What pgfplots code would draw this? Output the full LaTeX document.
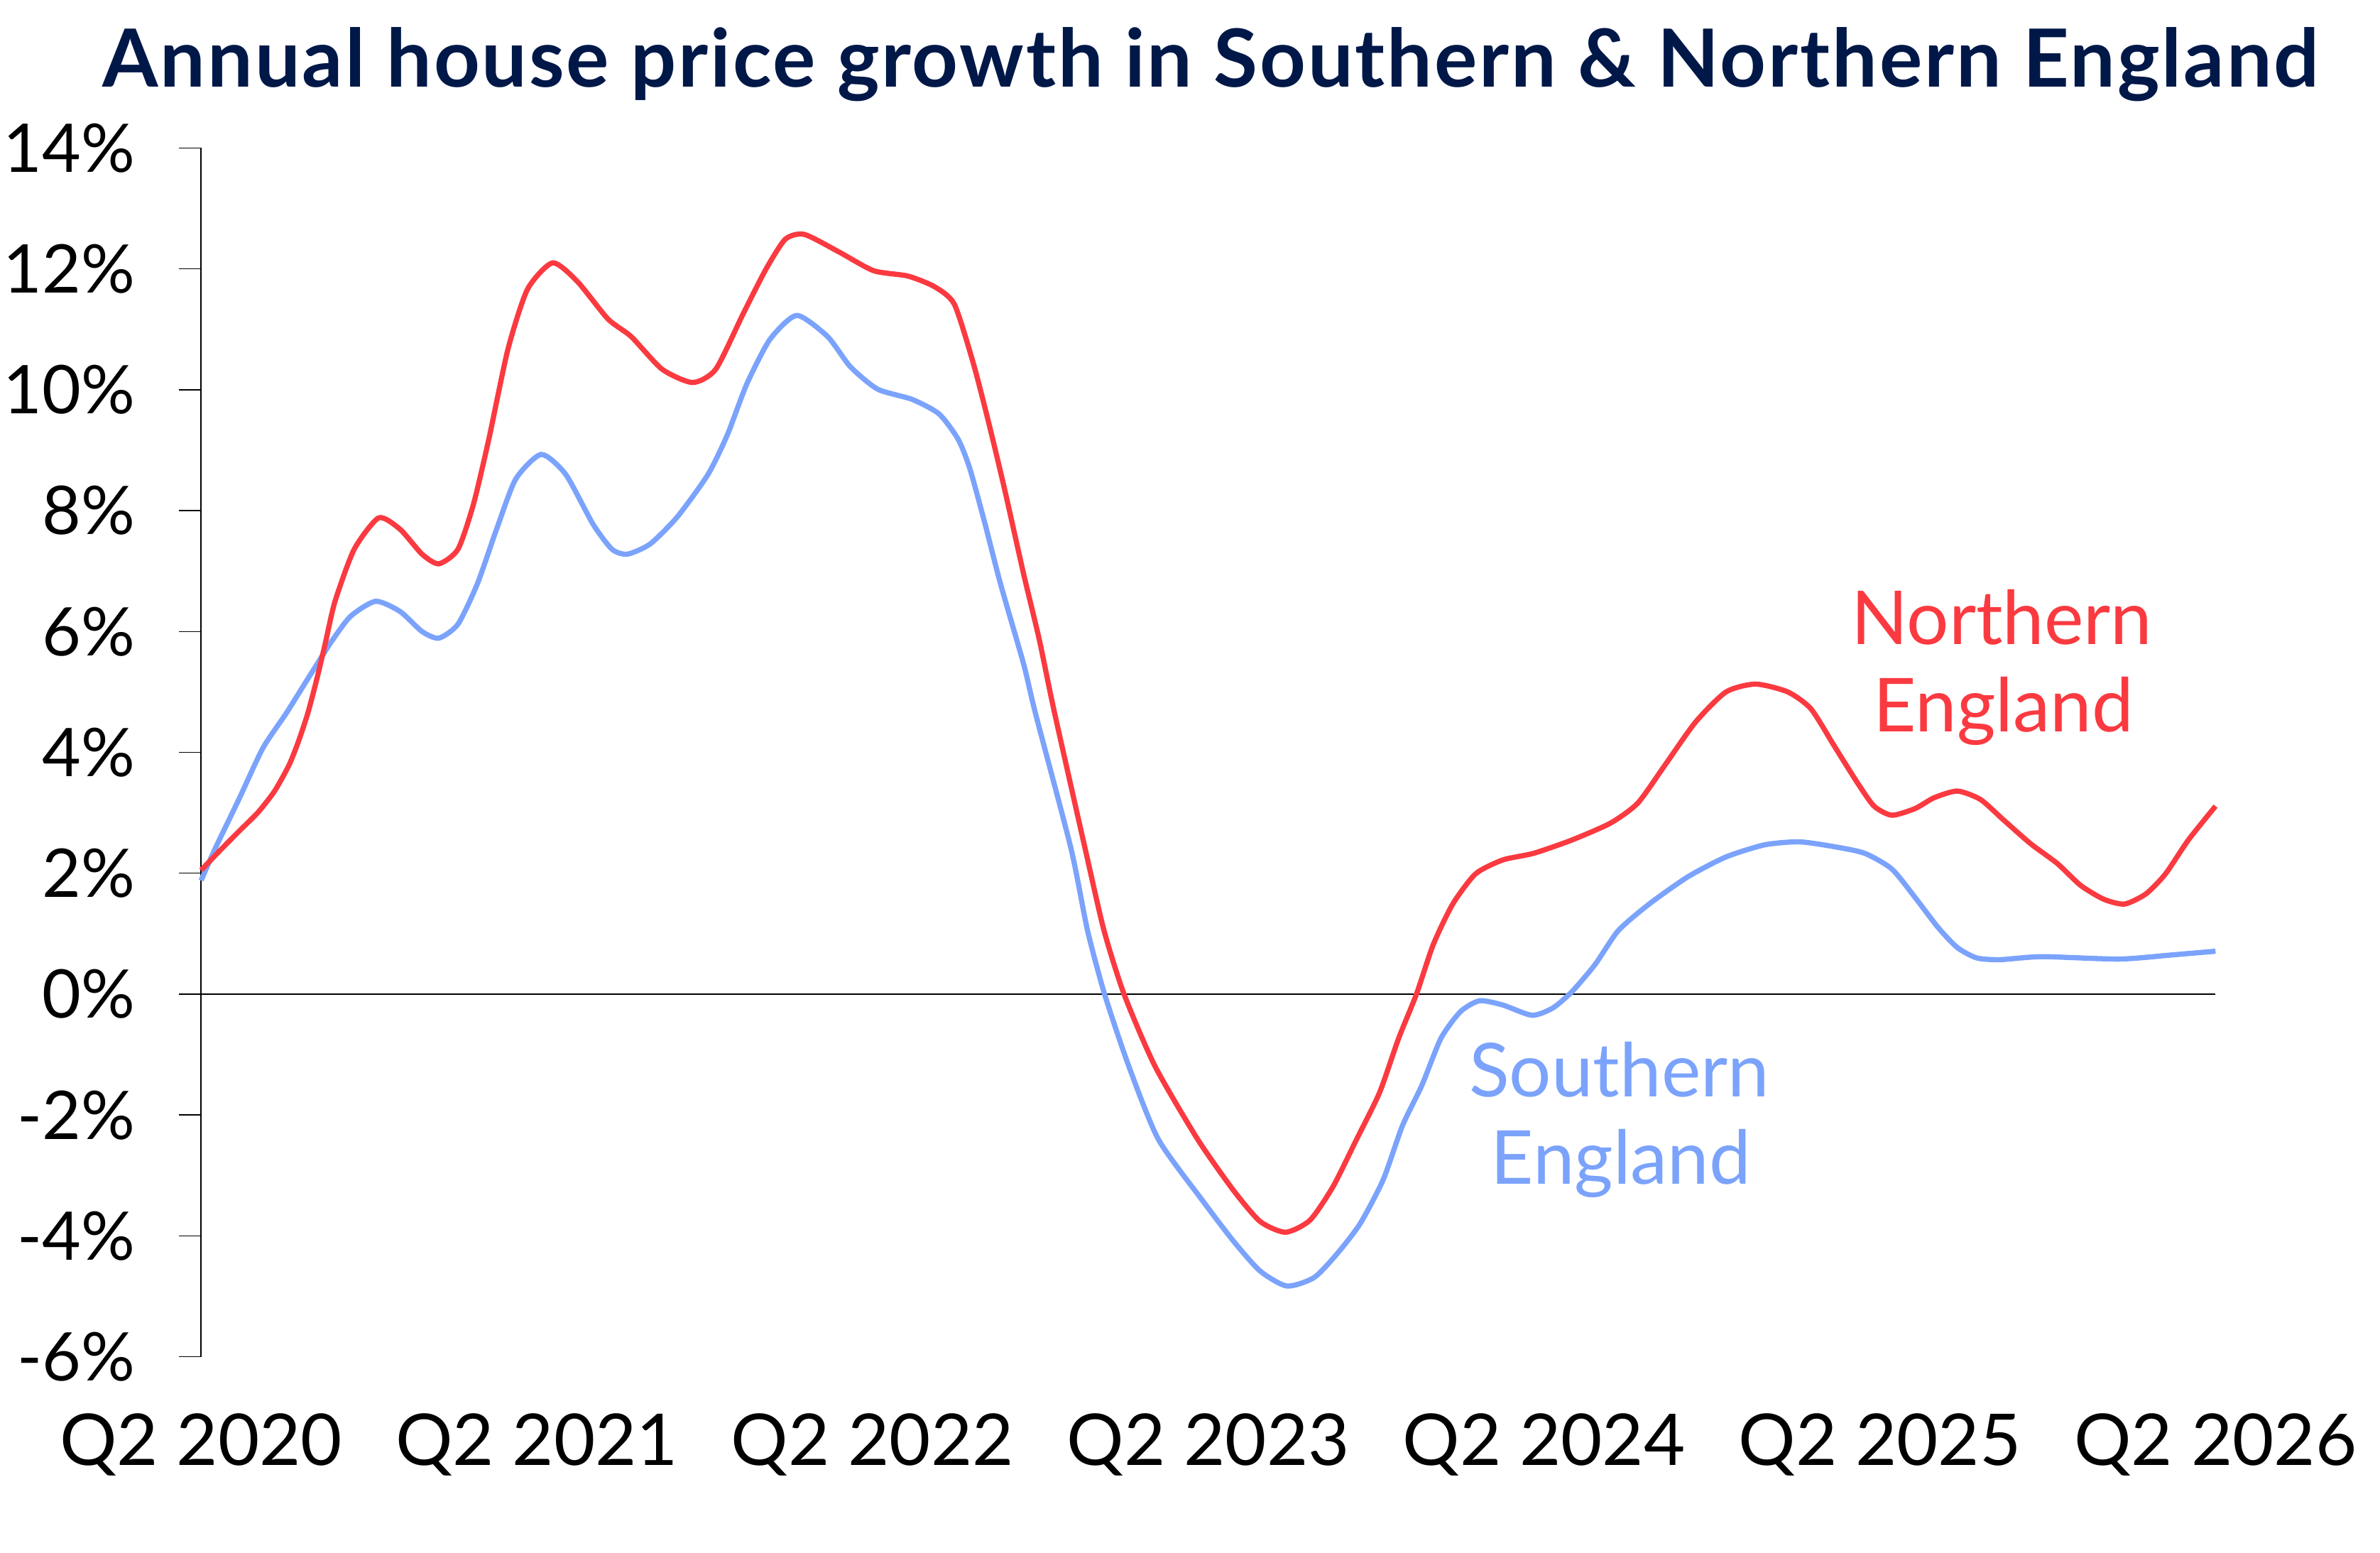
\documentclass[border=0pt]{standalone}
\usepackage{fontspec}
\setmainfont{Lato}
\newfontfamily\titlefont{Lato}[LetterSpace=2.5]
\usepackage{pgfplots}
\pgfplotsset{compat=1.18}
\definecolor{northred}{RGB}{250,58,64}
\definecolor{southblue}{RGB}{123,163,252}
\definecolor{titlenavy}{RGB}{0,24,72}

\pgfplotstableread{
t v
0 2.05
0.057 2.38
0.114 2.70
0.170 3.01
0.219 3.36
0.262 3.79
0.290 4.18
0.318 4.65
0.346 5.24
0.371 5.83
0.399 6.50
0.456 7.36
0.529 7.88
0.593 7.69
0.658 7.28
0.708 7.12
0.765 7.36
0.811 8.10
0.857 9.18
0.914 10.67
0.972 11.66
1.047 12.10
1.121 11.79
1.212 11.17
1.281 10.88
1.373 10.34
1.464 10.12
1.533 10.34
1.614 11.25
1.682 11.99
1.740 12.49
1.797 12.57
1.900 12.28
2.003 11.97
2.106 11.88
2.186 11.70
2.244 11.41
2.301 10.42
2.347 9.43
2.393 8.36
2.450 6.95
2.496 5.88
2.541 4.68
2.633 2.41
2.689 1.06
2.749 0.00
2.841 -1.19
2.968 -2.40
3.074 -3.24
3.154 -3.76
3.230 -3.94
3.303 -3.74
3.372 -3.18
3.441 -2.41
3.510 -1.63
3.567 -0.73
3.620 0.00
3.670 0.82
3.728 1.49
3.796 1.99
3.877 2.22
3.969 2.33
4.083 2.55
4.198 2.83
4.279 3.16
4.359 3.78
4.451 4.50
4.542 5.00
4.630 5.13
4.726 5.00
4.795 4.72
4.864 4.11
4.933 3.50
4.983 3.11
5.036 2.96
5.105 3.07
5.162 3.25
5.231 3.36
5.300 3.22
5.369 2.88
5.449 2.49
5.529 2.16
5.598 1.80
5.667 1.57
5.729 1.49
5.793 1.66
5.851 1.99
5.919 2.55
6.000 3.11
}\north

\pgfplotstableread{
t v
0 1.88
0.043 2.42
0.114 3.24
0.184 4.07
0.254 4.65
0.325 5.28
0.388 5.83
0.445 6.25
0.520 6.50
0.593 6.33
0.658 6.00
0.708 5.89
0.765 6.12
0.823 6.79
0.880 7.69
0.937 8.52
1.013 8.93
1.086 8.60
1.167 7.78
1.224 7.36
1.270 7.28
1.338 7.45
1.419 7.90
1.510 8.60
1.568 9.26
1.625 10.09
1.694 10.83
1.774 11.23
1.866 10.88
1.934 10.38
2.015 10.01
2.118 9.84
2.198 9.60
2.255 9.18
2.290 8.69
2.335 7.78
2.381 6.79
2.450 5.46
2.485 4.65
2.591 2.41
2.640 1.06
2.691 0.00
2.763 -1.19
2.851 -2.40
2.982 -3.41
3.074 -4.08
3.154 -4.58
3.234 -4.83
3.315 -4.69
3.383 -4.30
3.452 -3.80
3.521 -3.07
3.578 -2.18
3.636 -1.51
3.693 -0.73
3.751 -0.29
3.808 -0.11
3.877 -0.18
3.964 -0.35
4.026 -0.23
4.083 0.04
4.152 0.49
4.221 1.05
4.313 1.49
4.428 1.94
4.542 2.27
4.657 2.47
4.760 2.52
4.864 2.44
4.955 2.33
5.036 2.07
5.105 1.60
5.174 1.10
5.231 0.77
5.288 0.60
5.357 0.57
5.483 0.62
5.713 0.58
5.873 0.65
6.000 0.71
}\south

\begin{document}
\begin{tikzpicture}
\path[use as bounding box] (-65.9pt,-64.1pt) rectangle (714.1pt,444.6pt);
\begin{axis}[
  at={(0,0)}, anchor=south west,
  scale only axis,
  width=660.2pt, height=396.1pt,
  xmin=0, xmax=6, ymin=-6, ymax=14,
  axis y line*=left, axis x line*=bottom,
  x axis line style={draw=none},
  y axis line style={line width=0.35pt, black},
  xtick={0,1,2,3,4,5,6},
  xticklabels={Q2 2020,Q2 2021,Q2 2022,Q2 2023,Q2 2024,Q2 2025,Q2 2026},
  ytick={-6,-4,-2,0,2,4,6,8,10,12,14},
  yticklabels={-6\%,-4\%,-2\%,0\%,2\%,4\%,6\%,8\%,10\%,12\%,14\%},
  tick align=outside,
  major tick length=7.3pt,
  xtick style={draw=none},
  ytick style={line width=0.35pt, black},
  yticklabel style={font=\fontsize{22}{27}\selectfont, anchor=east, inner sep=0pt, xshift=-14.2pt},
  xticklabel style={font=\fontsize{23.4}{27}\selectfont, anchor=north, inner sep=0pt, yshift=-11pt},
  clip=false,
]
\addplot[black, line width=0.3pt] coordinates {(0,0) (6,0)};
\addplot[southblue, line width=1.7pt, smooth, tension=0.4] table[x=t,y=v] {\south};
\addplot[northred, line width=1.7pt, smooth, tension=0.4] table[x=t,y=v] {\north};
\node[anchor=base, text=northred, font=\fontsize{24.4}{28}\selectfont, inner sep=0pt] at (axis cs:5.363,5.785) {Northern};
\node[anchor=base, text=northred, font=\fontsize{24.4}{28}\selectfont, inner sep=0pt] at (axis cs:5.368,4.336) {England};
\node[anchor=base, text=southblue, font=\fontsize{24.4}{28}\selectfont, inner sep=0pt] at (axis cs:4.224,-1.70) {Southern};
\node[anchor=base, text=southblue, font=\fontsize{24.4}{28}\selectfont, inner sep=0pt] at (axis cs:4.229,-3.147) {England};
\node[anchor=base, text=titlenavy, font=\titlefont\fontsize{26.3}{30}\selectfont\bfseries, inner sep=0pt] at (rel axis cs:0.5013,1) [yshift=20pt] {Annual house price growth in Southern \& Northern England};
\end{axis}
\end{tikzpicture}
\end{document}
